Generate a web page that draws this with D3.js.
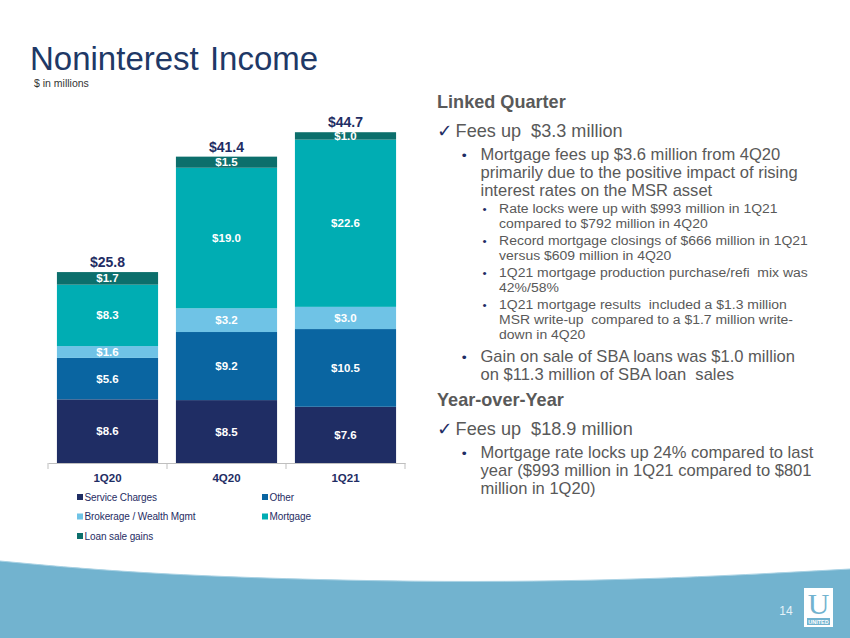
<!DOCTYPE html>
<html>
<head>
<meta charset="utf-8">
<script src="https://cdn.jsdelivr.net/npm/d3@7"></script>
<style>
  html, body { margin: 0; padding: 0; background: #fff; }
  svg { display: block; font-family: "Liberation Sans", Arial, sans-serif; }
</style>
</head>
<body>
<div id="chart"></div>
<script>
const quarters       = ['1Q20', '4Q20', '1Q21'];
const seriesNames    = ['Service Charges', 'Other', 'Brokerage / Wealth Mgmt', 'Mortgage', 'Loan sale gains'];
const serviceCharges = [8.6, 8.5, 7.6];
const otherFees      = [5.6, 9.2, 10.5];
const brokerage      = [1.6, 3.2, 3.0];
const mortgage       = [8.3, 19.0, 22.6];
const loanSaleGains  = [1.7, 1.5, 1.0];
const totals         = [25.8, 41.4, 44.7];

const notes = [
    { level: 'head',  lines: ['Linked Quarter'] },
    { level: 'check', lines: ['Fees up  $3.3 million'] },
    { level: 'b1',    lines: ['Mortgage fees up $3.6 million from 4Q20',
                              'primarily due to the positive impact of rising',
                              'interest rates on the MSR asset'] },
    { level: 'b2',    lines: ['Rate locks were up with $993 million in 1Q21',
                              'compared to $792 million in 4Q20'] },
    { level: 'b2',    lines: ['Record mortgage closings of $666 million in 1Q21',
                              'versus $609 million in 4Q20'] },
    { level: 'b2',    lines: ['1Q21 mortgage production purchase/refi  mix was',
                              '42%/58%'] },
    { level: 'b2',    lines: ['1Q21 mortgage results  included a $1.3 million',
                              'MSR write-up  compared to a $1.7 million write-',
                              'down in 4Q20'] },
    { level: 'b1',    lines: ['Gain on sale of SBA loans was $1.0 million',
                              'on $11.3 million of SBA loan  sales'] },
    { level: 'head',  lines: ['Year-over-Year'] },
    { level: 'check', lines: ['Fees up  $18.9 million'] },
    { level: 'b1',    lines: ['Mortgage rate locks up 24% compared to last',
                              'year ($993 million in 1Q21 compared to $801',
                              'million in 1Q20)'] }
];

const COLORS   = ['#1f2d64', '#0a65a1', '#6fc3e6', '#00adb3', '#0c6f6c'];
const NAVY     = '#1f2d64';
const GREY_TXT = '#595959';
const BAND     = '#72b3cf';

const W = 850, H = 638;
const svg = d3.select('#chart').append('svg').attr('width', W).attr('height', H);

// footer wave
const wave = d3.line().curve(d3.curveBasis);
const wavePts = [[0, 561], [150, 575], [420, 583], [650, 580], [850, 569]];
svg.append('path')
    .attr('d', wave(wavePts) + `L${W},${H}L0,${H}Z`)
    .attr('fill', BAND);
svg.append('path')
    .attr('d', wave(wavePts))
    .attr('fill', 'none').attr('stroke', '#a9d2e4').attr('stroke-width', 1);

svg.append('text').attr('x', 786).attr('y', 615).attr('text-anchor', 'middle')
    .attr('fill', '#e6f2f8').style('font-size', '12px').text('14');
const logo = svg.append('g').attr('transform', 'translate(804,588)');
logo.append('rect').attr('width', 29).attr('height', 39).attr('fill', '#fff');
logo.append('text').attr('x', 14.5).attr('y', 26).attr('text-anchor', 'middle')
    .attr('fill', BAND).style('font-family', '"Liberation Serif", serif').style('font-size', '30px').text('U');
logo.append('rect').attr('x', 3).attr('y', 30).attr('width', 23).attr('height', 7).attr('fill', BAND);
logo.append('text').attr('x', 14.5).attr('y', 35.8).attr('text-anchor', 'middle')
    .attr('fill', '#fff').style('font-size', '5.5px').style('font-weight', 'bold').text('UNITED');

// title
svg.append('text').attr('x', 30).attr('y', 70).attr('fill', '#203866')
    .style('font-size', '33px').style('word-spacing', '2px').text('Noninterest Income');
svg.append('text').attr('x', 34).attr('y', 87).attr('fill', '#333')
    .style('font-size', '10.5px').text('$ in millions');

// stacked bars
const table = quarters.map((q, i) => ({
    quarter: q,
    s0: serviceCharges[i], s1: otherFees[i], s2: brokerage[i], s3: mortgage[i], s4: loanSaleGains[i],
    total: totals[i]
}));
const keys = ['s0', 's1', 's2', 's3', 's4'];

const x = d3.scaleBand().domain(quarters).range([48, 405]).paddingInner(0.15).paddingOuter(0.075);
const y = d3.scaleLinear().domain([0, 50]).range([463, 93]);

const stacked = d3.stack().keys(keys)(table);
const g = svg.append('g');

stacked.forEach((layer, li) => {
    g.selectAll(`.bar-${li}`).data(layer).enter().append('rect')
        .attr('class', `bar-${li}`)
        .attr('x', d => x(d.data.quarter))
        .attr('width', x.bandwidth())
        .attr('y', d => y(d[1]))
        .attr('height', d => y(d[0]) - y(d[1]))
        .attr('fill', COLORS[li]);

    g.selectAll(`.lbl-${li}`).data(layer).enter().append('text')
        .attr('x', d => x(d.data.quarter) + x.bandwidth() / 2)
        .attr('y', d => (y(d[0]) + y(d[1])) / 2 + 4)
        .attr('text-anchor', 'middle')
        .attr('fill', '#fff').style('font-size', '11.5px').style('font-weight', 'bold')
        .text(d => '$' + (d[1] - d[0]).toFixed(1));
});

g.selectAll('.total').data(table).enter().append('text')
    .attr('x', d => x(d.quarter) + x.bandwidth() / 2)
    .attr('y', d => y(d.total) - 5)
    .attr('text-anchor', 'middle')
    .attr('fill', NAVY).style('font-size', '14px').style('font-weight', 'bold')
    .text(d => '$' + d.total.toFixed(1));

const axis = g.append('g').attr('transform', `translate(0,${y(0)})`)
    .call(d3.axisBottom(x).tickSize(0).tickPadding(11));
axis.select('.domain').attr('stroke', '#bfbfbf');
axis.selectAll('.tick text').attr('fill', NAVY).style('font-size', '11.5px').style('font-weight', 'bold')
    .style('font-family', '"Liberation Sans", Arial, sans-serif');
// category dividers
const edges = quarters.map(q => x(q) - x.step() * x.paddingInner() / 2).concat([x.range()[1]]);
edges[0] = x.range()[0];
axis.selectAll('.edge').data(edges).enter().append('line')
    .attr('x1', d => d).attr('x2', d => d).attr('y1', 0).attr('y2', 6)
    .attr('stroke', '#bfbfbf');

// legend
const legend = svg.append('g').attr('transform', 'translate(77,497)');
seriesNames.forEach((name, i) => {
    const lg = legend.append('g')
        .attr('transform', `translate(${(i % 2) * 185},${Math.floor(i / 2) * 19.5})`);
    lg.append('rect').attr('x', 0).attr('y', -3).attr('width', 6).attr('height', 6).attr('fill', COLORS[i]);
    lg.append('text').attr('x', 7.5).attr('y', 3.5).attr('fill', NAVY)
        .style('font-size', '10px').style('letter-spacing', '-0.1px').text(name);
});

// notes panel
const STYLE = {
    head:  { gap: 26, lh: 18, size: 17.5, x: 437, weight: 'bold' },
    check: { gap: 29, lh: 18, size: 17.5, x: 455, weight: 'normal' },
    b1:    { gap: 23, lh: 18, size: 16,   x: 479, weight: 'normal', bx: 461 },
    b2:    { gap: 17, lh: 15, size: 13.5, x: 497, weight: 'normal', bx: 481 }
};
const panel = svg.append('g').attr('transform', 'translate(437,0) scale(1.035,1) translate(-437,0)');
let cy = 108 - STYLE.head.gap;
notes.forEach(n => {
    const st = STYLE[n.level];
    cy += st.gap;
    if (n.level === 'check') {
        panel.append('text').attr('x', 437).attr('y', cy).attr('fill', NAVY)
            .style('font-family', '"DejaVu Sans", sans-serif').style('font-size', '18px')
            .style('font-weight', 'bold').text('\u2713');
    } else if (st.bx) {
        panel.append('text').attr('x', st.bx).attr('y', cy).attr('fill', NAVY)
            .style('font-size', (st.size * 0.85) + 'px').text('\u2022');
    }
    n.lines.forEach((line, li) => {
        panel.append('text').attr('x', st.x).attr('y', cy + li * st.lh).attr('fill', GREY_TXT)
            .style('font-size', st.size + 'px').style('font-weight', st.weight)
            .style('white-space', 'pre').text(line);
    });
    cy += (n.lines.length - 1) * st.lh;
});
</script>
</body>
</html>
